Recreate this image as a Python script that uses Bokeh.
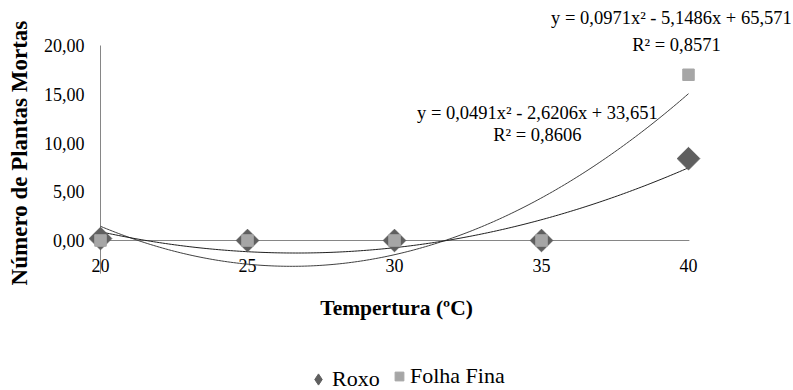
import numpy as np
from bokeh.plotting import figure
from bokeh.models import Range1d, Label, Legend, LegendItem, ColumnDataSource
from bokeh.core.properties import value
from bokeh.embed import file_html
from bokeh.resources import INLINE

# ---- data ----
temperatures = [20, 25, 30, 35, 40]
roxo = [0.2, 0.0, 0.0, 0.0, 8.4]
folha_fina = [0.0, 0.0, 0.0, 0.0, 17.0]
y_ticks = [0, 5, 10, 15, 20]
y_tick_labels = ["0,00", "5,00", "10,00", "15,00", "20,00"]
x_ticks = [20, 25, 30, 35, 40]
x_tick_labels = ["20", "25", "30", "35", "40"]
eq_folha = ["y = 0,0971x² - 5,1486x + 65,571", "R² = 0,8571"]
eq_roxo = ["y = 0,0491x² - 2,6206x + 33,651", "R² = 0,8606"]
y_title = "Número de Plantas Mortas"
x_title = "Tempertura (ºC)"
series_names = ["Roxo", "Folha Fina"]

FONT = "Liberation Serif"
W, H = 793, 390
# pixel mapping: x=20 at px 100, 29.4 px per degree; y=0 at px 240, 9.75 px per unit
X0PX, XS = 100.0, 29.4
Y0PX, YS = 240.0, 9.75

p = figure(width=W, height=H, output_backend="svg", toolbar_location=None,
           x_range=Range1d(20 - X0PX / XS, 20 + (W - X0PX) / XS),
           y_range=Range1d(-(H - Y0PX) / YS, Y0PX / YS),
           x_axis_location=None, y_axis_location=None, min_border=0)
p.outline_line_color = None
p.background_fill_color = "white"
p.border_fill_color = "white"
p.xgrid.visible = False
p.ygrid.visible = False

# axis lines
p.segment(x0=[x_ticks[0]], y0=[-3.4], x1=[x_ticks[0]], y1=[y_ticks[-1]],
          line_color="#868686", line_width=1)
p.segment(x0=[x_ticks[0]], y0=[0], x1=[x_ticks[-1] + 0.03], y1=[0],
          line_color="#868686", line_width=1)

# tick labels
p.text(x=[x_ticks[0]] * len(y_ticks), y=y_ticks, text=y_tick_labels,
       text_align="right", text_baseline="middle", x_offset=-16,
       text_font=value(FONT), text_font_size="18px", text_color="#000000")
p.text(x=x_ticks, y=[0] * len(x_ticks), text=x_tick_labels,
       text_align="center", text_baseline="middle", y_offset=25,
       text_font=value(FONT), text_font_size="18px", text_color="#000000")

# axis titles
p.add_layout(Label(x=30.07, y=-6.92, text=x_title, text_align="center",
                   text_baseline="middle", text_font=FONT, text_font_size="21.5px",
                   text_font_style="bold", text_color="#000000"))
p.add_layout(Label(x=17.23, y=8.97, text=y_title, angle=np.pi / 2,
                   text_align="center", text_baseline="middle", text_font=FONT,
                   text_font_size="23px", text_font_style="bold", text_color="#000000"))

# trend lines (2nd order polynomial fits)
xs = np.linspace(20, 40, 200)
fit_r = np.polyval(np.polyfit(temperatures, roxo, 2), xs)
fit_f = np.polyval(np.polyfit(temperatures, folha_fina, 2), xs)
p.line(xs, fit_f, line_color="#404040", line_width=1)
p.line(xs, fit_r, line_color="#202020", line_width=1)

src = ColumnDataSource(dict(x=temperatures, r=roxo, f=folha_fina))
r_roxo = p.scatter("x", "r", source=src, marker="square", angle=np.pi / 4, size=16,
                   fill_color="#5f5f5f", line_color="#5f5f5f")
r_folha = p.scatter("x", "f", source=src, marker="square", size=11.5,
                    fill_color="#a6a6a6", line_color="#a6a6a6")

# equation labels
for txt, (lx, ly) in zip(eq_folha, [(39.42, 22.87), (39.59, 20.10)]):
    p.add_layout(Label(x=lx, y=ly, text=txt, text_align="center", text_baseline="middle",
                       text_font=FONT, text_font_size="18.5px", text_color="#000000"))
for txt, (lx, ly) in zip(eq_roxo, [(34.86, 13.03), (34.86, 10.77)]):
    p.add_layout(Label(x=lx, y=ly, text=txt, text_align="center", text_baseline="middle",
                       text_font=FONT, text_font_size="18.5px", text_color="#000000"))

# legend-only glyph for the diamond symbol (not drawn in the plot: NaN position)
leg_r = p.scatter(x=[np.nan], y=[np.nan], marker="diamond",
                  fill_color="#5f5f5f", line_color="#5f5f5f")

common = dict(orientation="horizontal", label_text_font=FONT, label_text_font_size="22px",
              label_text_color="#000000", border_line_color=None,
              background_fill_alpha=0, padding=0, margin=0, label_standoff=0)
legend1 = Legend(items=[LegendItem(label=series_names[0], renderers=[leg_r])],
                 location=(304, -5), glyph_width=28, glyph_height=32, label_height=32,
                 **common)
legend2 = Legend(items=[LegendItem(label=series_names[1], renderers=[r_folha])],
                 location=(388, 1), glyph_width=22, glyph_height=22, label_height=22,
                 **common)
p.add_layout(legend1, "center")
p.add_layout(legend2, "center")

open("out.html", "w").write(file_html(p, INLINE))
